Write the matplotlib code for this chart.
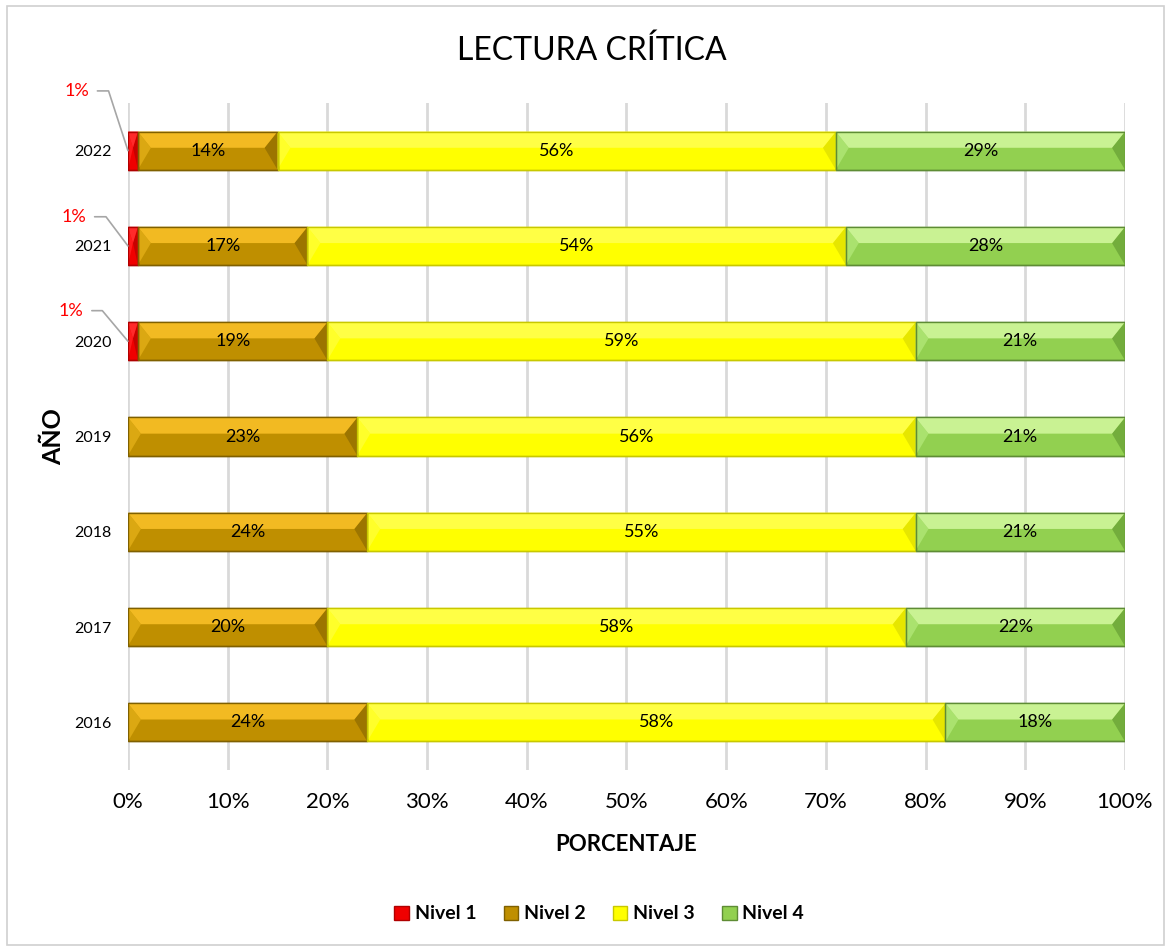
import matplotlib.pyplot as plt
import numpy as np
from matplotlib.patches import Polygon, Rectangle, Patch

plt.rcParams["font.family"] = ["Lato", "DejaVu Sans"]

# datos
years = ["2016", "2017", "2018", "2019", "2020", "2021", "2022"]
nivel1 = [0, 0, 0, 0, 1, 1, 1]
nivel2 = [24, 20, 24, 23, 19, 17, 14]
nivel3 = [58, 58, 55, 56, 59, 54, 56]
nivel4 = [18, 22, 21, 21, 21, 28, 29]
series_names = ["Nivel 1", "Nivel 2", "Nivel 3", "Nivel 4"]

# colores: cara, banda superior, lado izq, lado der, borde
colors = [
    ("#f00000", "#ff2a2a", "#ff1a1a", "#c80000", "#b00000"),
    ("#bf8f00", "#f2ba22", "#dba812", "#9c7500", "#7f6000"),
    ("#ffff00", "#ffff45", "#ffff2a", "#e6e600", "#c8c800"),
    ("#92d050", "#c9f293", "#aae26e", "#73ad3c", "#5e8c35"),
]

# posicion de las etiquetas rojas (offset en puntos, angulo de la guia)
callout = {4: (-32, 22, 130), 5: (-30, 21, 127), 6: (-28, 43, 108)}

fig = plt.figure(figsize=(11.75, 9.51), dpi=100)
ax = fig.add_axes([0.1089, 0.1903, 0.8485, 0.7014])

y = np.arange(len(years))
h = 0.4
data = [nivel1, nivel2, nivel3, nivel4]
left = np.zeros(len(years))

for k, vals in enumerate(data):
    face, top, lft, rgt, edge = colors[k]
    vals = np.array(vals, dtype=float)
    ax.barh(y, vals, left=left, height=h, color=face, edgecolor=edge,
            linewidth=1.0, zorder=3)
    for i in range(len(years)):
        w = vals[i]
        if w <= 0:
            continue
        x0 = left[i]
        x1 = x0 + w
        t = y[i] + h / 2
        bo = y[i] - h / 2
        mid = t - 0.17
        b = min(1.3, w / 2)
        ax.add_patch(Polygon([(x0, t), (x0 + b, mid), (x0, bo)],
                             closed=True, color=lft, lw=0, zorder=4))
        ax.add_patch(Polygon([(x1, t), (x1 - b, mid), (x1, bo)],
                             closed=True, color=rgt, lw=0, zorder=4))
        ax.add_patch(Polygon([(x0, t), (x1, t), (x1 - b, mid), (x0 + b, mid)],
                             closed=True, color=top, lw=0, zorder=4))
        ax.add_patch(Rectangle((x0, bo), w, h, fill=False, edgecolor=edge,
                               lw=1.0, zorder=5))
        if k > 0:
            ax.text(x0 + w / 2, y[i], f"{int(w)}%", ha="center", va="center",
                    fontsize=13, color="black", zorder=6)
        else:
            dx, dy, ang = callout[i]
            ax.annotate(f"{int(w)}%", xy=(0.0, y[i]), xytext=(dx, dy),
                        textcoords="offset points", ha="right", va="center",
                        fontsize=13, color="#ff0000", zorder=6,
                        arrowprops=dict(arrowstyle="-", color="#a6a6a6", lw=1.2,
                                        shrinkA=4, shrinkB=0,
                                        connectionstyle=f"angle,angleA=0,angleB={ang},rad=0"),
                        annotation_clip=False)
    left = left + vals

ax.set_xlim(0, 100)
ax.set_ylim(-0.5, len(years) - 0.5)
ax.set_xticks(np.arange(0, 101, 10))
ax.set_xticklabels([f"{v}%" for v in range(0, 101, 10)], fontsize=16)
ax.set_yticks(y)
ax.set_yticklabels(years, fontsize=11.5)
ax.tick_params(axis="x", length=0, pad=16)
ax.tick_params(axis="y", length=0, pad=12)
ax.grid(axis="x", color="#d9d9d9", lw=2, zorder=0)
for s in ax.spines.values():
    s.set_visible(False)

ax.set_xlabel("PORCENTAJE", fontsize=16, fontweight="bold", labelpad=16)
ax.set_ylabel("AÑO", fontsize=18, fontweight="bold", labelpad=6)
fig.text(0.504, 0.947, "LECTURA CRÍTICA", ha="center", va="center", fontsize=23)

handles = [Patch(facecolor=colors[k][0], edgecolor=colors[k][4], label=series_names[k])
           for k in range(4)]
fig.legend(handles=handles, loc="center", bbox_to_anchor=(0.51, 0.039), ncol=4,
           frameon=False, prop={"size": 14, "weight": "bold"},
           handlelength=0.75, handleheight=0.75, handletextpad=0.3, columnspacing=1.4)

fig.patches.append(Rectangle((0.006, 0.006), 0.985, 0.988, transform=fig.transFigure,
                             fill=False, edgecolor="#d0d0d0", lw=1.2))

fig.savefig("out.png", dpi=100)
